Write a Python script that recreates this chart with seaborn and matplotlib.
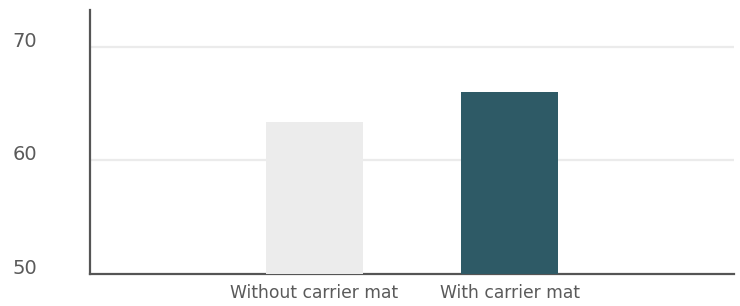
import matplotlib
matplotlib.use("Agg")
import matplotlib.pyplot as plt
import seaborn as sns
import pandas as pd

# --- DATA ---
categories = ["Without carrier mat", "With carrier mat"]
values = [63.4, 66.0]
bar_colors = ["#ececec", "#2e5a66"]
y_ticks = [50, 60, 70]

df = pd.DataFrame({"category": categories, "value": values})

sns.set_theme(style="white")
plt.rcParams["font.family"] = ["DejaVu Sans"]

fig = plt.figure(figsize=(7.4, 3.06), dpi=100)
ax = fig.add_axes([90 / 740, 32 / 306, 644 / 740, 264.5 / 306])

sns.barplot(data=df, x="category", y="value", hue="category",
            palette=bar_colors, width=0.5, legend=False, ax=ax,
            saturation=1, linewidth=0, zorder=3)

ax.set_ylim(50, 73.3)
ax.set_xlim(-1.15, 2.15)
ax.set_yticks(y_ticks)
ax.set_xlabel("")
ax.set_ylabel("")

# gridlines only above the baseline
for t in y_ticks[1:]:
    ax.axhline(t, color="#ebebeb", linewidth=1.6, zorder=1)

for side in ["top", "right"]:
    ax.spines[side].set_visible(False)
for side in ["left", "bottom"]:
    ax.spines[side].set_color("#555555")
    ax.spines[side].set_linewidth(1.6)

ax.tick_params(axis="y", length=0, pad=56, labelsize=14, labelcolor="#5a5a5a")
ax.tick_params(axis="x", length=0, pad=7, labelsize=12.3, labelcolor="#5a5a5a")
for lbl in ax.get_yticklabels():
    lbl.set_horizontalalignment("left")
    lbl.set_verticalalignment("baseline")

fig.savefig("out.png", dpi=100)
